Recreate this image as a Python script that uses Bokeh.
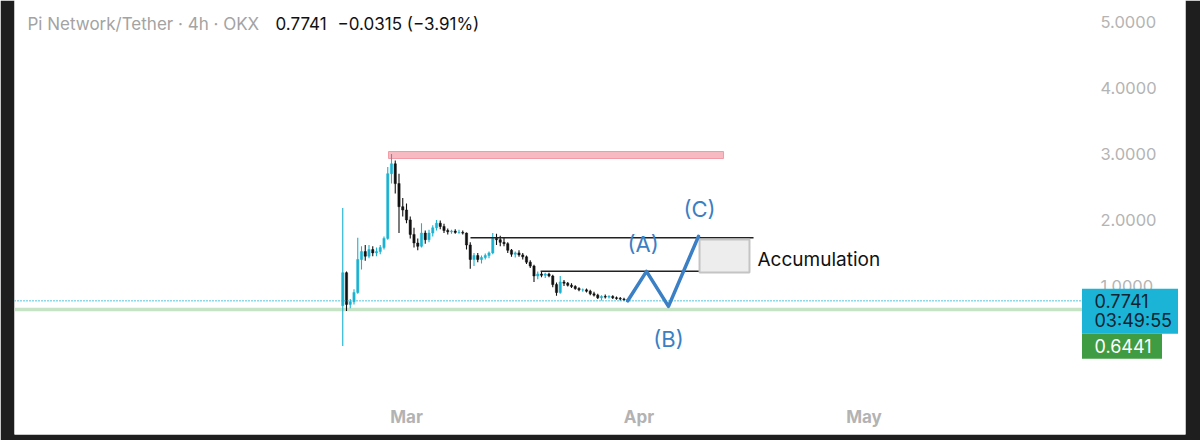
import pandas as pd
from bokeh.plotting import figure
from bokeh.models import (Range1d, LinearAxis, DatetimeAxis, FixedTicker, MonthsTicker,
                          DatetimeTickFormatter, NumeralTickFormatter)
from bokeh.core.properties import value
from bokeh.embed import file_html
from bokeh.resources import INLINE

# ---------------- data ----------------
candle_start = "2025-02-20 12:00"   # 12h candles
candle_hours = 12
opens = [0.70, 1.20, 0.72, 0.76, 0.90, 1.40, 1.52, 1.45, 1.55, 1.50,
         1.52, 1.58, 1.72, 2.70, 2.85, 2.55, 2.20, 2.15, 2.00, 1.78,
         1.65, 1.60, 1.80, 1.70, 1.80, 1.88, 1.95, 1.90, 1.84, 1.82,
         1.83, 1.81,
         1.81, 1.80, 1.62, 1.40, 1.46, 1.40, 1.43, 1.46, 1.50,
         1.72, 1.70, 1.66, 1.64, 1.54, 1.48, 1.50, 1.47, 1.44, 1.36,
         1.30, 1.15, 1.18, 1.16, 1.18, 1.15, 1.02, 0.90, 1.06, 1.04,
         1.01, 0.99, 0.96, 0.94,
         0.94, 0.92, 0.88, 0.86, 0.82, 0.84, 0.83, 0.84, 0.82, 0.81, 0.80, 0.79]
highs = [2.18, 1.22, 0.80, 0.95, 1.73, 1.60, 1.62, 1.62, 1.60, 1.58,
         1.62, 1.75, 2.80, 3.00, 2.90, 2.70, 2.33, 2.25, 2.05, 1.88,
         1.72, 1.95, 1.84, 1.85, 1.92, 2.00, 1.99, 1.94, 1.87, 1.85,
         1.86, 1.85,
         1.84, 1.81, 1.66, 1.50, 1.50, 1.46, 1.49, 1.52, 1.80,
         1.79, 1.76, 1.74, 1.66, 1.56, 1.52, 1.54, 1.50, 1.46, 1.39,
         1.32, 1.22, 1.21, 1.20, 1.20, 1.17, 1.05, 1.15, 1.09, 1.06,
         1.04, 1.01, 0.98, 0.96,
         0.96, 0.94, 0.91, 0.88, 0.86, 0.87, 0.86, 0.86, 0.84, 0.83, 0.82, 0.80]
lows = [0.09, 0.62, 0.66, 0.72, 0.88, 1.25, 1.38, 1.42, 1.45, 1.45,
        1.48, 1.55, 1.70, 2.55, 2.40, 1.80, 2.05, 1.95, 1.72, 1.58,
        1.54, 1.58, 1.64, 1.66, 1.75, 1.84, 1.86, 1.80, 1.78, 1.79,
        1.79, 1.79,
        1.78, 1.55, 1.26, 1.30, 1.36, 1.34, 1.40, 1.42, 1.48,
        1.62, 1.60, 1.60, 1.50, 1.44, 1.43, 1.44, 1.40, 1.33, 1.27,
        1.06, 1.10, 1.13, 1.12, 1.13, 0.98, 0.85, 0.88, 1.00, 0.99,
        0.97, 0.94, 0.92, 0.91,
        0.90, 0.86, 0.84, 0.80, 0.78, 0.81, 0.81, 0.80, 0.79, 0.78, 0.77, 0.76]
closes = [1.20, 0.72, 0.76, 0.90, 1.40, 1.52, 1.45, 1.55, 1.50, 1.52,
          1.58, 1.72, 2.70, 2.85, 2.55, 2.20, 2.15, 2.00, 1.78, 1.65,
          1.60, 1.80, 1.70, 1.80, 1.88, 1.95, 1.90, 1.84, 1.82, 1.83,
          1.81, 1.81,
          1.80, 1.62, 1.40, 1.46, 1.40, 1.43, 1.46, 1.50, 1.72,
          1.70, 1.66, 1.64, 1.54, 1.48, 1.50, 1.47, 1.44, 1.36, 1.30,
          1.15, 1.18, 1.16, 1.18, 1.15, 1.02, 0.90, 1.06, 1.04, 1.01,
          0.99, 0.96, 0.94, 0.94,
          0.92, 0.88, 0.86, 0.82, 0.84, 0.83, 0.84, 0.82, 0.81, 0.80, 0.79, 0.7741]

last_price = 0.7741
last_change = "\u22120.0315 (\u22123.91%)"
countdown = "03:49:55"
support_price = 0.6441
title_text = "Pi Network/Tether \u00b7 4h \u00b7 OKX"

ath_band_top, ath_band_bottom = 3.036, 2.930
ath_band_start, ath_band_end = "2025-02-26 14:30", "2025-04-12 06:30"

level_prices = [1.729, 1.223]
level_starts = ["2025-03-09 12:45", "2025-03-18 21:00"]
level_ends = ["2025-04-16 06:30", "2025-04-14 12:45"]

accum_left, accum_right = "2025-04-09 01:40", "2025-04-15 17:30"
accum_top, accum_bottom = 1.703, 1.203
accum_label = "Accumulation"
accum_label_time, accum_label_price = "2025-04-16 19:10", 1.40

wave_times = ["2025-03-30 12:00", "2025-04-02 00:00", "2025-04-04 22:20", "2025-04-08 22:20"]
wave_prices = [0.7741, 1.22, 0.69, 1.75]
wave_labels = ["(A)", "(B)", "(C)"]
wave_label_times = ["2025-04-01 13:00", "2025-04-04 22:20", "2025-04-09 01:40"]
wave_label_prices = [1.63, 0.19, 2.17]

price_ticks = [1, 2, 3, 4, 5]

# ---------------- layout helpers (pixel calibration) ----------------
MAR1 = pd.Timestamp("2025-03-01")
MAR1_X = 406.0
PX_PER_DAY = 7.5
ZERO_Y = 351.4
PX_PER_UNIT = 66.0


def px2t(x):
    return (MAR1 + pd.Timedelta(days=(x - MAR1_X) / PX_PER_DAY)).round("s")


def px2p(y):
    return (ZERO_Y - y) / PX_PER_UNIT


def ms(t):
    return pd.Timestamp(t).value / 1e6


FONT_NAME = "Inter"
FONT = value(FONT_NAME)
TEAL = "#1ab2d0"
BLACK = "#111111"
BLUE = "#3b7fc4"

W, H = 1200, 440
p = figure(width=W, height=H, output_backend="svg", toolbar_location=None,
           x_axis_location=None, y_axis_location=None,
           x_range=Range1d(ms(px2t(14)), ms(px2t(1185))),
           y_range=Range1d(px2p(434), px2p(0)),
           min_border_left=14, min_border_right=15, min_border_top=0, min_border_bottom=6,
           background_fill_color="white", border_fill_color="#1e1e1e")
p.outline_line_color = None
p.xgrid.grid_line_color = None
p.ygrid.grid_line_color = None

# axes drawn inside the frame (TradingView style)
yax = LinearAxis(ticker=FixedTicker(ticks=price_ticks),
                 formatter=NumeralTickFormatter(format="0.0000"),
                 fixed_location=ms(px2t(1090)))
xax = DatetimeAxis(ticker=MonthsTicker(months=[2, 3, 4]),
                   formatter=DatetimeTickFormatter(days="%b", months="%b", years="%b"),
                   fixed_location=px2p(396))
for ax in (yax, xax):
    ax.axis_line_color = None
    ax.major_tick_line_color = None
    ax.minor_tick_line_color = None
    ax.major_label_text_font = FONT_NAME
    ax.major_label_standoff = 4
yax.major_label_text_color = "#b4b4b4"
yax.major_label_text_font_size = "16.5px"
xax.major_label_text_color = "#b3b3b3"
xax.major_label_text_font_size = "17px"
xax.major_label_text_font_style = "bold"
p.add_layout(yax, "right")
p.add_layout(xax, "below")

# support line (green) and ATH band
p.segment(x0=[px2t(14)], x1=[px2t(1085)], y0=[support_price], y1=[support_price],
          line_color="#c6e3c6", line_width=3.5)
p.quad(left=[pd.Timestamp(ath_band_start)], right=[pd.Timestamp(ath_band_end)],
       top=[ath_band_top], bottom=[ath_band_bottom],
       fill_color="#f7b3bb", fill_alpha=0.9, line_color="#f29aa5", line_width=1)

# candles
times = pd.date_range(candle_start, periods=len(closes), freq=f"{candle_hours}h")
colors = [TEAL if c >= o else BLACK for o, c in zip(opens, closes)]
p.segment(x0=times, x1=times, y0=lows, y1=highs, line_color=colors, line_width=1.1)
p.vbar(x=times, width=candle_hours * 3600 * 1000 * 0.6,
       top=[max(o, c) for o, c in zip(opens, closes)],
       bottom=[min(o, c) for o, c in zip(opens, closes)],
       fill_color=colors, line_color=colors, line_width=0.5)

# last price dotted line
p.segment(x0=[px2t(14)], x1=[px2t(1085)], y0=[last_price], y1=[last_price],
          line_color=TEAL, line_width=1.6, line_dash="1 2")

# horizontal levels
p.segment(x0=pd.to_datetime(level_starts), x1=pd.to_datetime(level_ends),
          y0=level_prices, y1=level_prices, line_color="#222222", line_width=1.5)

# accumulation box
p.quad(left=[pd.Timestamp(accum_left)], right=[pd.Timestamp(accum_right)],
       top=[accum_top], bottom=[accum_bottom],
       fill_color="#ededed", line_color="#c4c4c4", line_width=2)
p.text(x=[pd.Timestamp(accum_label_time)], y=[accum_label_price], text=[accum_label],
       text_font=FONT, text_font_size="19px", text_color="#111111",
       text_align="left", text_baseline="middle")

# wave projection
p.line(x=pd.to_datetime(wave_times), y=wave_prices, line_color=BLUE, line_width=3.5,
       line_join="round", line_cap="round")
p.text(x=pd.to_datetime(wave_label_times), y=wave_label_prices, text=wave_labels,
       text_font=FONT, text_font_size="22px", text_color=BLUE,
       text_align="center", text_baseline="middle")

# title
p.text(x=[px2t(27)], y=[px2p(23)], text=[title_text], text_font=FONT,
       text_font_size="17px", text_color="#a3a3a3", text_align="left", text_baseline="middle")
p.text(x=[px2t(275), px2t(337)], y=[px2p(23), px2p(23)],
       text=[f"{last_price:.4f}", last_change], text_font=FONT,
       text_font_size="17px", text_color="#111111", text_align="left", text_baseline="middle")

# price-scale labels (drawn above the axis labels)
p.rect(x=[px2t(1129.5)], y=[last_price - 10.5 / PX_PER_UNIT], width=96, height=45,
       width_units="screen", height_units="screen",
       fill_color="#1bb4d6", line_color=None, level="overlay")
p.rect(x=[px2t(1121.5)], y=[last_price - 45.5 / PX_PER_UNIT], width=80, height=25,
       width_units="screen", height_units="screen",
       fill_color="#409c43", line_color=None, level="overlay")
p.text(x=[px2t(1094), px2t(1094)], y=[last_price, last_price - 20 / PX_PER_UNIT],
       text=[f"{last_price:.4f}", countdown], text_font=FONT, text_font_size="18px",
       text_color="#0f2330", text_align="left", text_baseline="middle", level="overlay")
p.text(x=[px2t(1094)], y=[last_price - 45 / PX_PER_UNIT], text=[f"{support_price:.4f}"],
       text_font=FONT, text_font_size="18px", text_color="white",
       text_align="left", text_baseline="middle", level="overlay")

open("out.html", "w").write(file_html(p, INLINE))
